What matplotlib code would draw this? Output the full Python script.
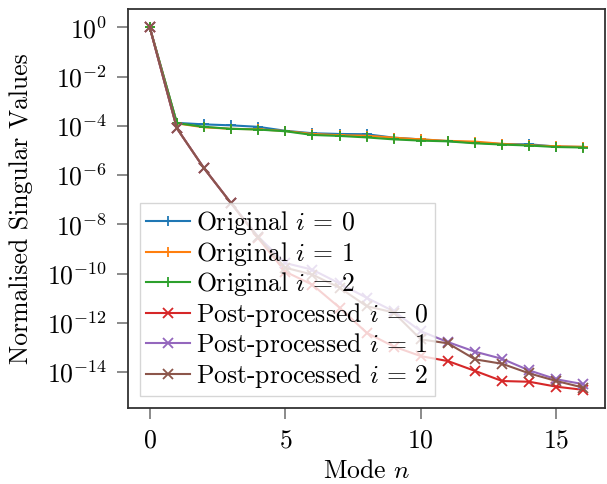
import numpy as np
import matplotlib
matplotlib.use("Agg")
import matplotlib.pyplot as plt
from matplotlib.ticker import NullLocator

# LaTeX-like look with the bundled Computer Modern fonts
plt.rcParams['font.family'] = 'serif'
plt.rcParams['font.serif'] = ['cmr10']
plt.rcParams['mathtext.fontset'] = 'cm'
plt.rcParams['axes.formatter.use_mathtext'] = True
plt.rcParams['font.size'] = 18.5

modes = np.arange(17)

# log10 of the normalised singular values
orig_0 = [0.0, -3.88, -3.94, -3.98, -4.04, -4.20, -4.30, -4.33, -4.34, -4.48, -4.55,
          -4.62, -4.68, -4.74, -4.75, -4.84, -4.86]
orig_1 = [0.0, -3.90, -4.06, -4.12, -4.14, -4.21, -4.33, -4.38, -4.40, -4.48, -4.55,
          -4.61, -4.64, -4.73, -4.79, -4.83, -4.85]
orig_2 = [0.0, -3.89, -4.04, -4.12, -4.15, -4.22, -4.37, -4.41, -4.47, -4.55, -4.60,
          -4.63, -4.71, -4.76, -4.80, -4.86, -4.88]
post_0 = [0.0, -4.10, -5.72, -7.14, -8.56, -9.92, -10.45, -11.38, -12.40, -12.96, -13.35,
          -13.55, -13.95, -14.36, -14.39, -14.59, -14.72]
post_1 = [0.0, -4.10, -5.72, -7.14, -8.50, -9.57, -9.84, -10.40, -10.98, -11.53, -12.34,
          -12.78, -13.17, -13.46, -13.93, -14.29, -14.49]
post_2 = [0.0, -4.10, -5.72, -7.14, -8.53, -9.76, -10.04, -10.57, -11.32, -11.58, -12.67,
          -12.83, -13.48, -13.66, -14.05, -14.36, -14.63]

series = [
    (r"Original $i\,=\,0$", orig_0, "+"),
    (r"Original $i\,=\,1$", orig_1, "+"),
    (r"Original $i\,=\,2$", orig_2, "+"),
    (r"Post-processed $i\,=\,0$", post_0, "x"),
    (r"Post-processed $i\,=\,1$", post_1, "x"),
    (r"Post-processed $i\,=\,2$", post_2, "x"),
]

fig = plt.figure(figsize=(6.07, 4.84), dpi=100)
ax = fig.add_axes([0.211, 0.157, 0.786, 0.824])

for k, (label, vals, marker) in enumerate(series):
    ax.plot(modes, 10.0 ** np.array(vals), marker=marker, color='C%d' % k,
            label=label, lw=1.5, ms=7, mew=1.3)

ax.set_yscale('log')
ax.set_yticks([10.0 ** k for k in range(0, -15, -2)])
ax.yaxis.set_minor_locator(NullLocator())
ax.set_xticks([0, 5, 10, 15])
ax.set_xlabel('Mode $n$', labelpad=5)
ax.set_ylabel('Normalised Singular Values', labelpad=10)

for sp in ax.spines.values():
    sp.set_color('#333333')
    sp.set_linewidth(1.3)
ax.tick_params(length=8, width=1.2, color='#777777', pad=7)

leg = ax.legend(loc='lower left', fancybox=False, handlelength=1.7,
                handletextpad=0.25, labelspacing=0.1, borderpad=0.25,
                borderaxespad=0.45)
leg.get_frame().set_edgecolor('#cccccc')

fig.savefig('out.png', dpi=100)
